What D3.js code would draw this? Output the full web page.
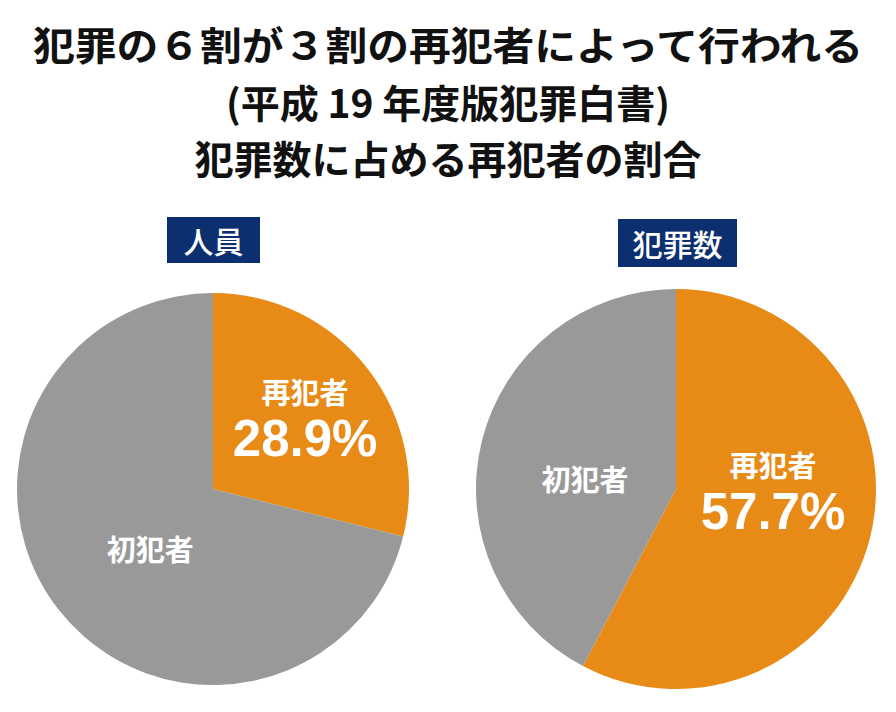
<!DOCTYPE html>
<meta charset="utf-8">
<style>
  body { margin: 0; background: #fff; }
  text { font-family: "Noto Sans CJK JP", "Noto Sans", sans-serif; }
  .num { font-family: "Liberation Sans", Arial, sans-serif; }
</style>
<body>
  <script src="https://d3js.org/d3.v7.min.js"></script>
  <script>
    // chart text
    var titleLines = ["犯罪の６割が３割の再犯者によって行われる", "(平成 19 年度版犯罪白書)", "犯罪数に占める再犯者の割合"];
    var charts = ["人員", "犯罪数"];
    var categories = ["再犯者", "初犯者"];
    // share of repeat / first offenders (%)
    var personShare = [28.9, 71.1];
    var crimeShare = [57.7, 42.3];

    var width = 896, height = 712;
    var colors = d3.scaleOrdinal().domain(categories).range(["#e88a16", "#999999"]);

    var svg = d3.select("body").append("svg")
      .attr("width", width)
      .attr("height", height);

    // titles
    var titleY = [43, 101, 157];
    svg.selectAll(".title")
      .data(titleLines)
      .enter()
      .append("text")
      .attr("class", "title")
      .attr("x", width / 2)
      .attr("y", function (d, i) { return titleY[i]; })
      .attr("text-anchor", "middle")
      .attr("dominant-baseline", "central")
      .style("font-size", "39px")
      .style("font-weight", "bold")
      .style("fill", "#111")
      .text(function (d) { return d; })
      .filter(function (d, i) { return i === 0; })
      .attr("textLength", 830)
      .attr("lengthAdjust", "spacingAndGlyphs");

    // layout for each pie
    var pies = [
      { cx: 213, cy: 489, r: 196, box: [167, 217, 93, 46], values: personShare,
        labels: [[0.47, -0.37], [-0.32, 0.30]] },
      { cx: 676, cy: 489, r: 200, box: [618, 219, 119, 48], values: crimeShare,
        labels: [[0.485, 0.0], [-0.455, -0.055]] }
    ];

    var pie = d3.pie().sort(null).value(function (d) { return d; });

    pies.forEach(function (p, k) {
      var g = svg.append("g").attr("transform", "translate(" + p.cx + "," + p.cy + ")");
      var arc = d3.arc().innerRadius(0).outerRadius(p.r);

      var slices = pie(p.values);
      g.selectAll("path")
        .data(slices)
        .enter()
        .append("path")
        .attr("d", arc)
        .style("fill", function (d, i) { return colors(categories[i]); });

      // labels
      slices.forEach(function (d, i) {
        var lx = p.labels[i][0] * p.r, ly = p.labels[i][1] * p.r;
        if (i === 0) {
          g.append("text")
            .attr("x", lx).attr("y", ly - 25)
            .attr("text-anchor", "middle")
            .attr("dominant-baseline", "central")
            .style("font-size", "29px").style("font-weight", "bold").style("fill", "#fff")
            .text(categories[i]);
          g.append("text")
            .attr("class", "num")
            .attr("x", lx).attr("y", ly + 40)
            .attr("text-anchor", "middle")
            .style("font-size", "51px").style("font-weight", "bold").style("fill", "#fff")
            .text(d3.format(".1f")(d.data) + "%");
        } else {
          g.append("text")
            .attr("x", lx).attr("y", ly)
            .attr("text-anchor", "middle")
            .attr("dominant-baseline", "central")
            .style("font-size", "29px").style("font-weight", "bold").style("fill", "#fff")
            .text(categories[i]);
        }
      });

      // chart name box
      svg.append("rect")
        .attr("x", p.box[0]).attr("y", p.box[1])
        .attr("width", p.box[2]).attr("height", p.box[3])
        .style("fill", "#0c2f6f");
      svg.append("text")
        .attr("x", p.box[0] + p.box[2] / 2)
        .attr("y", p.box[1] + p.box[3] / 2)
        .attr("text-anchor", "middle")
        .attr("dominant-baseline", "central")
        .style("font-size", "30px")
        .style("font-weight", "500")
        .style("fill", "#fff")
        .text(charts[k]);
    });
  </script>
